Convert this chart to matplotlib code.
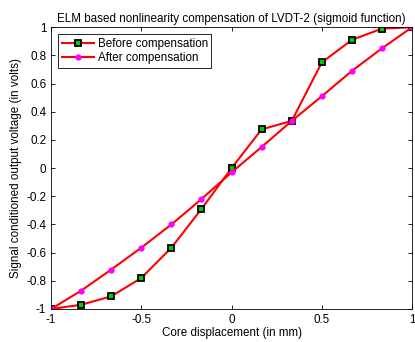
import matplotlib.pyplot as plt
import numpy as np

x = [-1, -5/6, -2/3, -0.5, -1/3, -1/6, 0, 1/6, 1/3, 0.5, 2/3, 5/6, 1]
before = [-1.0, -0.97, -0.91, -0.78, -0.565, -0.29, 0.0, 0.275, 0.335, 0.75, 0.91, 0.99, 1.0]
after = [-1.0, -0.87, -0.72, -0.565, -0.40, -0.22, -0.03, 0.15, 0.335, 0.51, 0.69, 0.85, 1.0]

plt.rcParams['font.family'] = 'Liberation Sans'
fig = plt.figure(figsize=(4.15, 3.42), dpi=100)
ax = fig.add_axes([0.123, 0.0965, 0.870, 0.824])

ax.plot(x, before, color='red', lw=1.5, marker='s', markersize=5,
        markerfacecolor='#00cc00', markeredgecolor='black', markeredgewidth=1.3,
        label='Before compensation')
ax.plot(x, after, color='red', lw=1.5, marker='o', markersize=3.5,
        markerfacecolor='magenta', markeredgecolor='magenta',
        label='After compensation')

ax.set_xlim(-1, 1)
ax.set_ylim(-1, 1)
ax.set_xticks([-1, -0.5, 0, 0.5, 1])
ax.set_xticklabels(['-1', '-0.5', '0', '0.5', '1'])
ax.set_yticks(np.arange(-1, 1.01, 0.2))
ax.set_yticklabels(['-1', '-0.8', '-0.6', '-0.4', '-0.2', '0', '0.2', '0.4', '0.6', '0.8', '1'])
ax.tick_params(direction='in', top=True, right=True, labelsize=8.4, length=3, width=0.6)
for s in ax.spines.values():
    s.set_linewidth(0.6)

ax.set_title('ELM based nonlinearity compensation of LVDT-2 (sigmoid function)', fontsize=8.4, pad=4)
ax.set_xlabel('Core displacement (in mm)', fontsize=8.4, labelpad=1)
ax.set_ylabel('Signal conditioned output voltage (in volts)', fontsize=8.4, labelpad=3)

leg = ax.legend(loc='upper left', fontsize=8.4, fancybox=False, edgecolor='black',
                framealpha=1, borderaxespad=0.6, handlelength=2.8, labelspacing=0.2,
                borderpad=0.3, handletextpad=0.3)
leg.get_frame().set_linewidth(0.6)

fig.savefig('out.png', dpi=100)
